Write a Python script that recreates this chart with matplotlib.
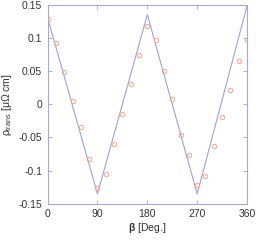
import matplotlib.pyplot as plt
import numpy as np

plt.rcParams['font.family'] = ['Liberation Sans', 'DejaVu Sans']
plt.rcParams['mathtext.fontset'] = 'custom'
plt.rcParams['mathtext.rm'] = 'Liberation Sans'
plt.rcParams['mathtext.it'] = 'Liberation Sans'
plt.rcParams['mathtext.bf'] = 'Liberation Sans:bold'

# measured points
beta_pts = [0, 15, 30, 45, 60, 75, 90, 105, 120, 135, 150, 165,
            180, 195, 210, 225, 240, 255, 270, 285, 300, 315, 330, 345, 360]
rho_pts = [0.128, 0.092, 0.049, 0.005, -0.035, -0.083, -0.126, -0.105, -0.060, -0.014,
           0.030, 0.074, 0.118, 0.097, 0.050, 0.008, -0.047, -0.077, -0.121, -0.108,
           -0.063, -0.019, 0.022, 0.065, 0.097]

# model curve vertices
beta_fit = [0, 90, 180, 270, 360]
rho_fit = [0.130, -0.135, 0.135, -0.135, 0.148]

fig = plt.figure(figsize=(2.56, 2.41), dpi=100)
ax = fig.add_axes([0.186, 0.154, 0.779, 0.827])

ax.plot(beta_fit, rho_fit, color='#a0a0dc', linewidth=0.8)
ax.plot(beta_pts, rho_pts, 'o', markersize=3.2, markerfacecolor='none',
        markeredgecolor='#f6a68a', markeredgewidth=0.7)

ax.set_xlim(0, 360)
ax.set_ylim(-0.15, 0.15)
ax.set_xticks([0, 90, 180, 270, 360])
ax.set_yticks([-0.15, -0.1, -0.05, 0, 0.05, 0.1, 0.15])
ax.set_yticklabels(['-0.15', '-0.1', '-0.05', '0', '0.05', '0.1', '0.15'])
ax.tick_params(direction='in', top=True, right=True, length=3, width=0.6,
               color='#a0a0c8', labelsize=7.5, labelcolor='#333333', pad=4)
for s in ax.spines.values():
    s.set_color('#a8a8cc')
    s.set_linewidth(0.8)

ax.set_xlabel(r'$\mathbf{\beta}$ [Deg.]', fontsize=7.5, color='#333333', labelpad=1)
ax.set_ylabel(r'$\rho_{\mathrm{trans}}$ [μΩ cm]', fontsize=7.5, color='#333333', labelpad=3)

fig.savefig('out.png', dpi=100)
